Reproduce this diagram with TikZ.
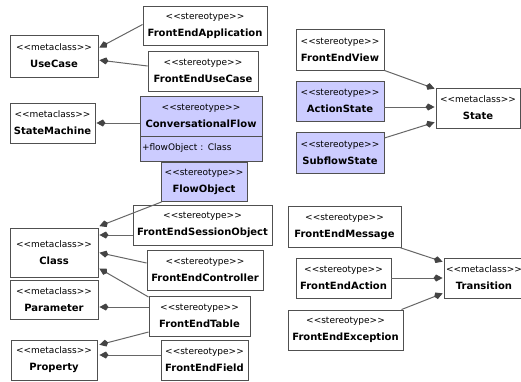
\documentclass[tikz,border=0pt]{standalone}
\usepackage{fontspec}
\setmainfont{DejaVu Sans}
\usetikzlibrary{arrows.meta}
\definecolor{lav}{HTML}{CCCCFF}
\definecolor{edge}{HTML}{505050}
\definecolor{wire}{HTML}{666666}
\definecolor{tipc}{HTML}{444444}
\newcommand{\stt}[1]{{\fontsize{9}{17}\selectfont <\kern0pt<#1>\kern0pt>}}
\newcommand{\nmm}[1]{{\fontsize{10}{18}\selectfont\bfseries #1}}
\tikzset{
  umlbox/.style={draw=edge, line width=0.9pt, fill=white, inner sep=0pt,
    align=center, font=\fontsize{9}{17}\selectfont, anchor=center},
  lavbox/.style={umlbox, fill=lav},
  link/.style={draw=wire, line width=1pt, shorten >=1pt,
    -{Kite[length=9pt,width=7pt,inset=2.5pt,color=tipc,fill=tipc]}}
}
\begin{document}
\begin{tikzpicture}[x=1pt,y=-1pt]
\useasboundingbox (0,0) rectangle (521,381);
% left column metaclasses
\node[umlbox, minimum width=88, minimum height=42] (uc) at (54,56) {\stt{metaclass}\\\nmm{UseCase}};
\node[umlbox, minimum width=85, minimum height=40] (sm) at (52.5,123) {\stt{metaclass}\\\nmm{StateMachine}};
\node[umlbox, minimum width=88, minimum height=49] (cls) at (54,252.5) {\stt{metaclass}\\\nmm{Class}};
\node[umlbox, minimum width=88, minimum height=39] (par) at (54,299.5) {\stt{metaclass}\\\nmm{Parameter}};
\node[umlbox, minimum width=86, minimum height=40] (prop) at (54,360) {\stt{metaclass}\\\nmm{Property}};
% middle column stereotypes
\node[umlbox, minimum width=124, minimum height=39] (fea) at (205,25.5) {\stt{stereotype}\\\nmm{FrontEndApplication}};
\node[umlbox, minimum width=110, minimum height=40] (feuc) at (203,71) {\stt{stereotype}\\\nmm{FrontEndUseCase}};
\node[lavbox, minimum width=122, minimum height=40] (cf) at (201,116) {\stt{stereotype}\\\nmm{ConversationalFlow}};
\node[lavbox, minimum width=122, minimum height=25, align=left, text width=118, font=\fontsize{9}{11}\selectfont] (cfa) at (201,148.5) {+flowObject : Class};
\node[lavbox, minimum width=86, minimum height=39] (fo) at (204,182) {\stt{stereotype}\\\nmm{FlowObject}};
\node[umlbox, minimum width=139, minimum height=40] (fes) at (202.5,225) {\stt{stereotype}\\\nmm{FrontEndSessionObject}};
\node[umlbox, minimum width=116, minimum height=40] (fec) at (205,270) {\stt{stereotype}\\\nmm{FrontEndController}};
\node[umlbox, minimum width=101, minimum height=40] (fet) at (199.5,316) {\stt{stereotype}\\\nmm{FrontEndTable}};
\node[umlbox, minimum width=87, minimum height=40] (fef) at (204.5,360) {\stt{stereotype}\\\nmm{FrontEndField}};
% right part
\node[umlbox, minimum width=88, minimum height=41] (fev) at (340,49.5) {\stt{stereotype}\\\nmm{FrontEndView}};
\node[lavbox, minimum width=88, minimum height=40] (as) at (340,101) {\stt{stereotype}\\\nmm{ActionState}};
\node[lavbox, minimum width=88, minimum height=41] (ss) at (340,152.5) {\stt{stereotype}\\\nmm{SubflowState}};
\node[umlbox, minimum width=84, minimum height=40] (st) at (478,108) {\stt{metaclass}\\\nmm{State}};
\node[umlbox, minimum width=113, minimum height=41] (fem) at (344.5,226.5) {\stt{stereotype}\\\nmm{FrontEndMessage}};
\node[umlbox, minimum width=95, minimum height=40] (fac) at (343.5,278) {\stt{stereotype}\\\nmm{FrontEndAction}};
\node[umlbox, minimum width=115, minimum height=40] (fex) at (345.5,330) {\stt{stereotype}\\\nmm{FrontEndException}};
\node[umlbox, minimum width=80, minimum height=40] (tr) at (484,278) {\stt{metaclass}\\\nmm{Transition}};
% connectors
\draw[link] ([yshift=1pt]fea.west) -- ([yshift=8pt]uc.east);
\draw[link] ([yshift=5pt]feuc.west) -- ([yshift=-4pt]uc.east);
\draw[link] ([yshift=-7pt]cf.west) -- (sm.east);
\draw[link] ([xshift=1pt]fo.south west) -- ([yshift=26pt]cls.east);
\draw[link] ([yshift=-10pt]fes.west) -- ([yshift=17.5pt]cls.east);
\draw[link] ([yshift=7pt]fec.west) -- (cls.east);
\draw[link] ([yshift=19pt]fet.west) -- ([yshift=-15.5pt]cls.east);
\draw[link] ([yshift=9pt]fet.west) -- ([yshift=-7.5pt]par.east);
\draw[link] ([yshift=-16pt]fet.west) -- ([xshift=1pt,yshift=15pt]prop.east);
\draw[link] ([yshift=5pt]fef.west) -- ([xshift=1pt,yshift=5pt]prop.east);
\draw[link] (fev.south east) -- ([yshift=19pt]st.west);
\draw[link] ([yshift=-6pt]as.east) -- ([yshift=1pt]st.west);
\draw[link] ([yshift=14.5pt]ss.east) -- ([yshift=-14pt]st.west);
\draw[link] ([xshift=-2pt]fem.south east) -- ([yshift=16pt]tr.west);
\draw[link] (fac.east) -- (tr.west);
\draw[link] ([xshift=-2pt]fex.north east) -- ([yshift=-15pt]tr.west);
\end{tikzpicture}
\end{document}
